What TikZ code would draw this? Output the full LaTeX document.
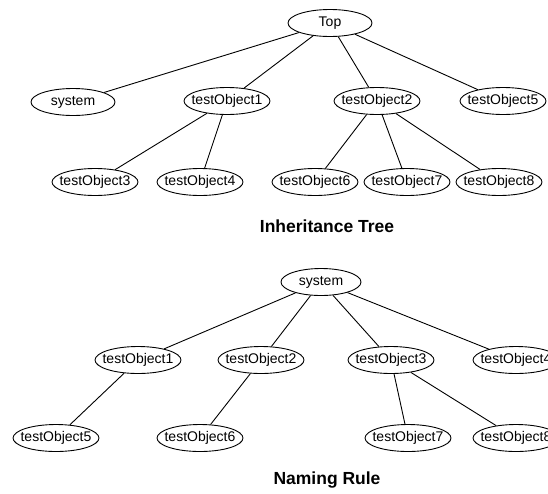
\documentclass[tikz,border=0pt]{standalone}
\usepackage{fontspec}
\setmainfont{Liberation Sans}
\usetikzlibrary{shapes.geometric}
\begin{document}
\begin{tikzpicture}[x=1pt,y=-1pt,
  obj/.style={ellipse, draw, line width=0.9pt, minimum width=86pt, minimum height=27pt, inner sep=0pt, font=\fontsize{14}{16}\selectfont},
  edge/.style={line width=0.9pt},
  title/.style={font=\fontsize{17.5}{20}\selectfont\bfseries}]
\useasboundingbox (0,0) rectangle (548,493);
\clip (0,0) rectangle (548,493);
% Inheritance tree
\node[obj, minimum width=84pt] (top) at (330,23) {};
\node[obj, minimum width=84pt] (sys) at (73,102) {};
\node[obj] (a1) at (227,101) {};
\node[obj] (a2) at (377,101) {};
\node[obj] (a5) at (503,101) {};
\node[obj] (a3) at (95,182) {};
\node[obj] (a4) at (200,182) {};
\node[obj] (a6) at (315,182) {};
\node[obj] (a7) at (407,182) {};
\node[obj] (a8) at (499,182) {};
\foreach \n/\t in {top/Top, sys/system, a1/testObject1, a2/testObject2, a5/testObject5, a3/testObject3, a4/testObject4, a6/testObject6, a7/testObject7, a8/testObject8}
  \node[font=\fontsize{14}{16}\selectfont, inner sep=0pt] (\n-t) at (\n) {\t};
\draw[edge] (top) -- (sys);
\draw[edge] (top) -- (a1);
\draw[edge] (top) -- (a2);
\draw[edge] (top) -- (a5);
\draw[edge] (a1) -- (a3);
\draw[edge] (a1) -- (a4);
\draw[edge] (a2) -- (a6);
\draw[edge] (a2) -- (a7);
\draw[edge] (a2) -- (a8);
\node[title] (t1) at (327,226) {Inheritance Tree};
% Naming rule tree
\node[obj, minimum width=80pt] (nsys) at (321,282) {};
\node[obj] (b1) at (138,360) {};
\node[obj] (b2) at (261,360) {};
\node[obj] (b3) at (391,360) {};
\node[obj] (b4) at (516,360) {};
\node[obj] (b5) at (56,438) {};
\node[obj] (b6) at (200,438) {};
\node[obj] (b7) at (408,438) {};
\node[obj] (b8) at (516,438) {};
\foreach \n/\t in {nsys/system, b1/testObject1, b2/testObject2, b3/testObject3, b4/testObject4, b5/testObject5, b6/testObject6, b7/testObject7, b8/testObject8}
  \node[font=\fontsize{14}{16}\selectfont, inner sep=0pt] (\n-t) at (\n) {\t};
\draw[edge] (nsys) -- (b1);
\draw[edge] (nsys) -- (b2);
\draw[edge] (nsys) -- (b3);
\draw[edge] (nsys) -- (b4);
\draw[edge] (b1) -- (b5);
\draw[edge] (b2) -- (b6);
\draw[edge] (b3) -- (b7);
\draw[edge] (b3) -- (b8);
\node[title] (t2) at (327,480) {Naming Rule};
\end{tikzpicture}
\end{document}
